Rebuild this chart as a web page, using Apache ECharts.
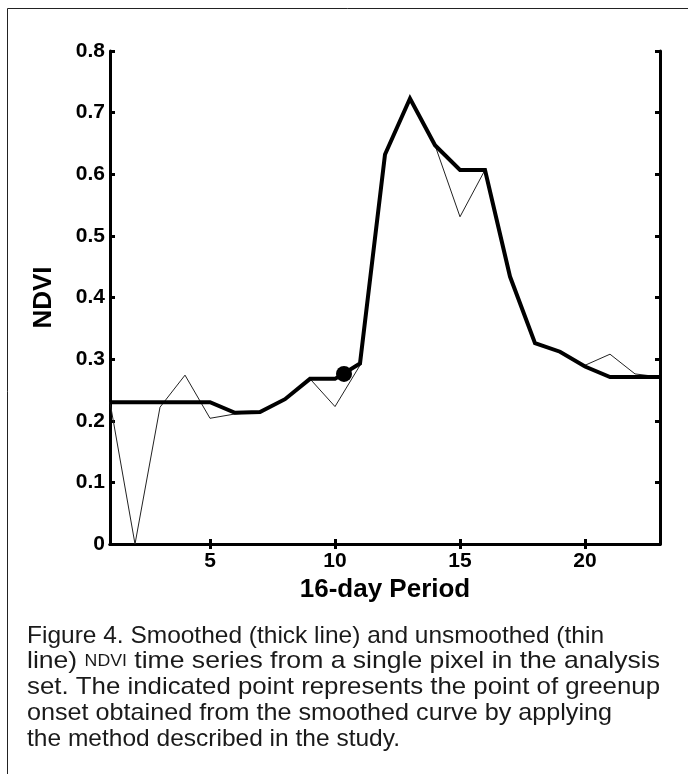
<!DOCTYPE html>
<html>
<head>
<meta charset="utf-8">
<script src="https://cdn.jsdelivr.net/npm/echarts@6/dist/echarts.min.js"></script>
<style>
  html, body { margin: 0; padding: 0; background: #fff; }
  #chart { width: 688px; height: 774px; }
</style>
</head>
<body>
<div id="chart"></div>
<script>
// ---- data ----
const periods = [1,2,3,4,5,6,7,8,9,10,11,12,13,14,15,16,17,18,19,20,21,22,23];
const smoothed = [0.23,0.23,0.23,0.23,0.23,0.213,0.214,0.235,0.268,0.268,0.293,0.632,0.723,0.647,0.607,0.607,0.434,0.326,0.312,0.288,0.271,0.271,0.271];
const unsmoothed = [0.23,0.0,0.222,0.274,0.204,0.211,0.214,0.235,0.268,0.223,0.29,0.632,0.723,0.647,0.531,0.607,0.434,0.326,0.312,0.29,0.308,0.276,0.271];
const onsetPoint = [10.36, 0.276];
const xTicks = [5, 10, 15, 20];
const xAxisTitle = '16-day Period';
const yAxisTitle = 'NDVI';
const captionLines = [
  [['r', 'Figure 4. Smoothed (thick line) and unsmoothed (thin']],
  [['r', 'line) '], ['sc', 'NDVI'], ['r', ' time series from a single pixel in the analysis']],
  [['r', 'set. The indicated point represents the point of greenup']],
  [['r', 'onset obtained from the smoothed curve by applying']],
  [['r', 'the method described in the study.']]
];

const chart = echarts.init(document.getElementById('chart'), null, { renderer: 'canvas' });
const FONT = '"Liberation Sans", Arial, Helvetica, sans-serif';
const CAP_FONT_SIZE = 24;
const SC_FONT_SIZE = 16;

// measure caption lines so the substitute font can be fitted to the reference line lengths
const ctx = document.createElement('canvas').getContext('2d');
function measure(parts) {
  let w = 0;
  parts.forEach(([k, t]) => {
    ctx.font = (k === 'sc' ? SC_FONT_SIZE : CAP_FONT_SIZE) + 'px ' + FONT;
    w += ctx.measureText(t).width;
  });
  return w;
}
const capLeft = 27;
const capLineEnds = [604, 660, 660, 612, 400];

const capGraphics = captionLines.map((parts, i) => ({
  type: 'text',
  x: capLeft,
  y: 636 + i * 25.8,
  scaleX: (capLineEnds[i] - capLeft) / measure(parts),
  style: {
    text: parts.map(([k, t]) => '{' + k + '|' + t + '}').join(''),
    verticalAlign: 'middle',
    rich: {
      r: { fontSize: CAP_FONT_SIZE, fontFamily: FONT, fill: '#1a1a1a' },
      sc: { fontSize: SC_FONT_SIZE, fontFamily: FONT, fill: '#1a1a1a' }
    }
  }
}));

const axisLineStyle = { color: '#000', width: 3 };
const labelStyle = { color: '#000', fontSize: 21, fontWeight: 'bold', fontFamily: FONT };

const option = {
  animation: false,
  backgroundColor: '#fff',
  grid: { left: 110, top: 51, right: 28, bottom: 230, containLabel: false },
  xAxis: [
    {
      type: 'value', min: 1, max: 23, position: 'bottom',
      axisLine: { show: true, lineStyle: axisLineStyle },
      axisTick: { show: true, inside: true, length: 5, lineStyle: { color: '#000', width: 3 }, customValues: xTicks },
      axisLabel: { show: true, margin: 7, customValues: xTicks, ...labelStyle },
      splitLine: { show: false },
      name: xAxisTitle, nameLocation: 'middle', nameGap: 28,
      nameTextStyle: { color: '#000', fontSize: 26, fontWeight: 'bold', fontFamily: FONT }
    },
    {
      type: 'value', min: 1, max: 23, position: 'top',
      axisLine: { show: true, lineStyle: axisLineStyle },
      axisTick: { show: true, inside: true, length: 5, lineStyle: { color: '#000', width: 3 }, customValues: xTicks },
      axisLabel: { show: false },
      splitLine: { show: false }
    }
  ],
  yAxis: [
    {
      type: 'value', min: 0, max: 0.8, interval: 0.1, position: 'left',
      axisLine: { show: true, lineStyle: axisLineStyle },
      axisTick: { show: true, inside: true, length: 5, lineStyle: { color: '#000', width: 3 } },
      axisLabel: { show: true, margin: 5, ...labelStyle, formatter: v => (v === 0 ? '0' : v.toFixed(1)) },
      splitLine: { show: false },
      name: yAxisTitle, nameLocation: 'middle', nameGap: 53,
      nameTextStyle: { color: '#000', fontSize: 26, fontWeight: 'bold', fontFamily: FONT }
    },
    {
      type: 'value', min: 0, max: 0.8, interval: 0.1, position: 'right',
      axisLine: { show: true, lineStyle: axisLineStyle },
      axisTick: { show: true, inside: true, length: 5, lineStyle: { color: '#000', width: 3 } },
      axisLabel: { show: false },
      splitLine: { show: false }
    }
  ],
  series: [
    {
      name: 'unsmoothed', type: 'line', xAxisIndex: 0, yAxisIndex: 0,
      data: periods.map((p, i) => [p, unsmoothed[i]]),
      showSymbol: false, symbol: 'none',
      lineStyle: { color: '#222', width: 1 }, z: 2
    },
    {
      name: 'smoothed', type: 'line', xAxisIndex: 0, yAxisIndex: 0,
      data: periods.map((p, i) => [p, smoothed[i]]),
      showSymbol: false, symbol: 'none',
      lineStyle: { color: '#000', width: 4, join: 'miter' }, z: 3
    },
    {
      name: 'onset', type: 'scatter', xAxisIndex: 0, yAxisIndex: 0,
      data: [onsetPoint], symbol: 'circle', symbolSize: 16,
      itemStyle: { color: '#000', opacity: 1 }, z: 4
    }
  ],
  graphic: [
    { type: 'line', shape: { x1: 7.5, y1: 8.5, x2: 688, y2: 8.5 }, style: { stroke: '#222', lineWidth: 1 } },
    { type: 'line', shape: { x1: 7.5, y1: 8.5, x2: 7.5, y2: 774 }, style: { stroke: '#222', lineWidth: 1 } },
    ...capGraphics
  ]
};
chart.setOption(option);
</script>
</body>
</html>
